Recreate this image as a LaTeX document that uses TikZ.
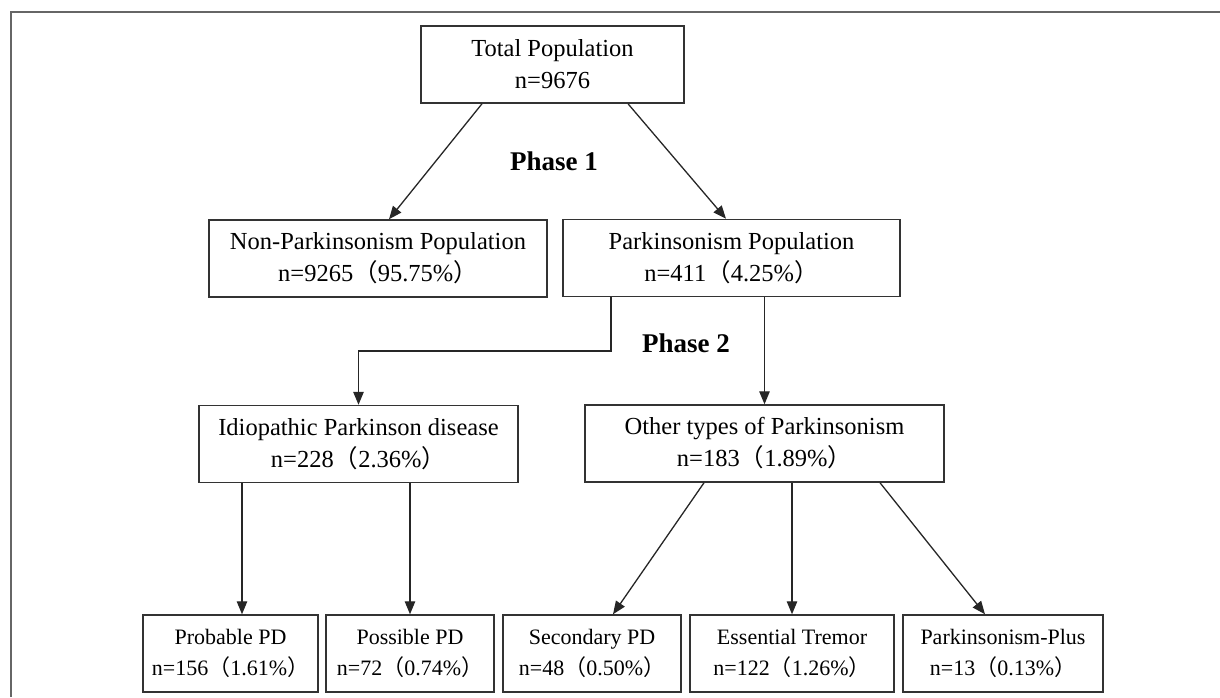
\documentclass[tikz,border=0pt]{standalone}
\usepackage{fontspec}
\setmainfont{Liberation Serif}
\newfontfamily\cjk{Noto Sans CJK SC}
\usetikzlibrary{calc, arrows.meta}
\newcommand{\pct}[1]{{\cjk （}#1{\cjk ）}}
\tikzset{
  box/.style={draw=black!80, line width=1.5pt, align=center, inner sep=0pt, minimum height=77pt, font=\fontsize{24.5}{32}\selectfont},
  leaf/.style={box, font=\fontsize{22}{31}\selectfont},
  phase/.style={font=\fontsize{27}{32}\selectfont\bfseries},
  arr/.style={draw=black!85, line width=1.3pt, -{Triangle[length=13pt,width=10.5pt]}}
}

\begin{document}
\begin{tikzpicture}[x=1pt, y=-1pt]
  \useasboundingbox (0,0) rectangle (1220,697);
  \draw[black!60, line width=1.5pt] (11,697) -- (11,12) -- (1220,12);
  \node[box, minimum width=263pt] (total) at (552.5,64.5) {Total Population\\n=9676};
  \node[box, minimum width=338pt] (nonpark) at (378,258.5) {Non-Parkinsonism Population\\n=9265\pct{95.75\%}};
  \node[box, minimum width=337pt] (park) at (731.5,258) {Parkinsonism Population\\n=411\pct{4.25\%}};
  \node[box, minimum width=319pt] (idio) at (358.5,444) {Idiopathic Parkinson disease\\n=228\pct{2.36\%}};
  \node[box, minimum width=359pt] (other) at (764.5,443.5) {Other types of Parkinsonism\\n=183\pct{1.89\%}};
  \node[leaf, minimum width=175pt] (prob) at (230.5,653.5) {Probable PD\\n=156\pct{1.61\%}};
  \node[leaf, minimum width=168pt] (poss) at (410,653.5) {Possible PD\\n=72\pct{0.74\%}};
  \node[leaf, minimum width=178pt] (second) at (592,653.5) {Secondary PD\\n=48\pct{0.50\%}};
  \node[leaf, minimum width=204pt] (ess) at (792,653.5) {Essential Tremor\\n=122\pct{1.26\%}};
  \node[leaf, minimum width=200pt] (plus) at (1003,653.5) {Parkinsonism-Plus\\n=13\pct{0.13\%}};
  \node[phase] (ph1) at (554,161) {Phase 1};
  \node[phase] (ph2) at (686,343) {Phase 2};
  \coordinate (bend) at (611,351);
  \draw[arr] ($(total.south)+(-70.5,0)$) -- ($(nonpark.north)+(11,0)$);
  \draw[arr] ($(total.south)+(75.5,0)$) -- ($(park.north)+(-5.5,0)$);
  \draw[arr] (park.south -| bend) -- (bend) -| (idio.north);
  \draw[arr] (other.north |- park.south) -- (other.north);
  \draw[arr] ([xshift=11.5]prob.north |- idio.south) -- ([xshift=11.5]prob.north);
  \draw[arr] (poss.north |- idio.south) -- (poss.north);
  \draw[arr] ($(other.south)+(-60.5,0)$) -- ($(second.north)+(21,0)$);
  \draw[arr] (ess.north |- other.south) -- (ess.north);
  \draw[arr] ($(other.south)+(115.5,0)$) -- ($(plus.north)+(-18,0)$);
\end{tikzpicture}
\end{document}
